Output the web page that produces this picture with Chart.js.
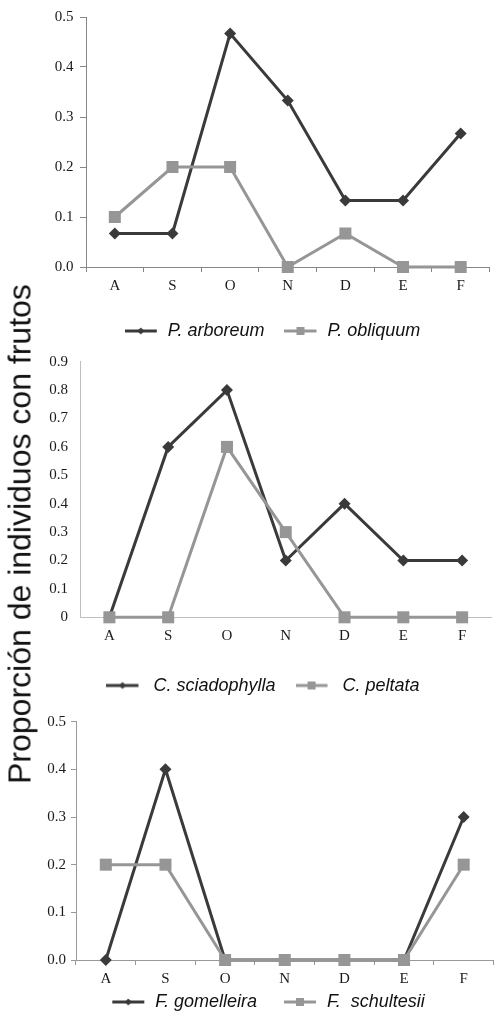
<!DOCTYPE html>
<html><head><meta charset="utf-8">
<script src="https://cdn.jsdelivr.net/npm/chart.js@4.4.0/dist/chart.umd.min.js"></script>
<style>
html,body{margin:0;padding:0;background:#fff;overflow:hidden;}
#wrap{position:relative;width:494px;height:1019px;overflow:hidden;background:#fff;}
canvas{position:absolute;}
#ytitle{position:absolute;left:20px;top:534px;transform:translate(-50%,-50%) rotate(-90deg);white-space:nowrap;font-family:'Liberation Sans',Arial,sans-serif;font-size:32px;color:#111;}
</style></head><body>
<div id="wrap">
<canvas id="c1" width="451" height="350" style="left:47px;top:0px"></canvas>
<canvas id="c2" width="474" height="365" style="left:26px;top:340px"></canvas>
<canvas id="c3" width="489" height="317" style="left:13px;top:704px"></canvas>
<div id="ytitle">Proporción de individuos con frutos</div>
</div>
<script>
// ---- data ----
const months = ['A','S','O','N','D','E','F'];
const pArboreum = [0.067,0.067,0.467,0.333,0.133,0.133,0.267];
const pObliquum = [0.1,0.2,0.2,0,0.067,0,0];
const cSciadophylla = [0,0.6,0.8,0.2,0.4,0.2,0.2];
const cPeltata = [0,0,0.6,0.3,0,0,0];
const fGomelleira = [0,0.4,0,0,0,0,0.3];
const fSchultesii = [0.2,0.2,0,0,0,0,0.2];
const yTicks1 = ['0.0','0.1','0.2','0.3','0.4','0.5'];
const yTicks2 = ['0','0.1','0.2','0.3','0.4','0.5','0.6','0.7','0.8','0.9'];
const yTicks3 = ['0.0','0.1','0.2','0.3','0.4','0.5'];

const DARK = '#3a3a3a', GREY = '#969696';

// legend sample: line with marker; `lead` = blank space before the line
function legendImg(dark, w, lead){
  const c = document.createElement('canvas');
  c.width = w; c.height = 12;
  const g = c.getContext('2d');
  g.strokeStyle = dark ? DARK : GREY; g.lineWidth = 3;
  g.beginPath(); g.moveTo(lead,6); g.lineTo(lead+32,6); g.stroke();
  g.fillStyle = dark ? DARK : GREY;
  const cx = lead + 16;
  if (dark){ g.beginPath(); g.moveTo(cx,2.5); g.lineTo(cx+3.5,6); g.lineTo(cx,9.5); g.lineTo(cx-3.5,6); g.closePath(); g.fill(); }
  else { g.fillRect(cx-4,2,8,8); }
  return c;
}

function makeChart(id, o){
  const imgs = [legendImg(true,o.boxW,o.lead), legendImg(false,o.boxW,o.lead)];
  const tickFont = {family:"'Liberation Serif','Times New Roman',serif", size:15};
  return new Chart(document.getElementById(id), {
    type:'line',
    data:{
      labels: months,
      datasets:[
        {label:o.names[0], data:o.series[0], order:1, borderColor:DARK, backgroundColor:DARK, borderWidth:3,
         pointStyle:'rectRot', pointRadius:6, pointBackgroundColor:DARK, pointBorderColor:DARK, pointBorderWidth:0, tension:0, clip:false},
        {label:o.names[1], data:o.series[1], order:0, borderColor:GREY, backgroundColor:GREY, borderWidth:3,
         pointStyle:'rect', pointRadius:8.5, pointBackgroundColor:GREY, pointBorderColor:GREY, pointBorderWidth:0, tension:0, clip:false}
      ]
    },
    options:{
      responsive:false, animation:false,
      layout:{padding:{top:o.padTop, bottom:o.padBottom, left:0, right:0}},
      plugins:{
        tooltip:{enabled:false},
        legend:{
          position:'bottom',
          labels:{
            usePointStyle:true, pointStyleWidth:o.boxW, padding:o.legPad, color:'#111',
            font:{family:"'Liberation Sans',Arial,sans-serif", size:18, style:'italic'},
            sort:(a,b)=>a.datasetIndex-b.datasetIndex,
            generateLabels(chart){
              const items = Chart.defaults.plugins.legend.labels.generateLabels(chart);
              items.forEach(it=>{ it.pointStyle = imgs[it.datasetIndex]; });
              return items;
            }
          }
        }
      },
      scales:{
        x:{
          offset:true,
          border:{color:o.axisColor, width:1},
          grid:{display:true, drawOnChartArea:false, offset:true, drawTicks:true, tickLength:o.xTickLen, tickColor:o.xTickColor},
          ticks:{font:tickFont, color:'#1a1a1a', padding:o.xPad, maxRotation:0, autoSkip:false},
          afterFit(s){ s.height = o.xH; }
        },
        y:{
          min:0, max:o.yMax,
          border:{color:o.axisColor, width:1},
          grid:{display:true, drawOnChartArea:false, drawTicks:true, tickLength:o.yTickLen, tickColor:o.yTickColor},
          ticks:{stepSize:0.1, font:tickFont, color:'#1a1a1a', padding:o.yPad,
                 callback:(v,i)=>o.yLabels[i]},
          afterFit(s){ s.width = o.yW; }
        }
      }
    }
  });
}

makeChart('c1', {names:['P. arboreum','P. obliquum'], series:[pArboreum,pObliquum], yMax:0.5, yLabels:yTicks1,
  padTop:17, padBottom:0, xH:35, yW:39, boxW:34, lead:0, legPad:20, axisColor:'#868686',
  xTickLen:5, xTickColor:'#868686', yTickLen:6, yTickColor:'#868686', xPad:5, yPad:6.5});
makeChart('c2', {names:['C. sciadophylla','C. peltata'], series:[cSciadophylla,cPeltata], yMax:0.9, yLabels:yTicks2,
  padTop:21.7, padBottom:0.5, xH:39.2, yW:54, boxW:38, lead:0, legPad:20, axisColor:'#bfbfbf',
  xTickLen:5, xTickColor:'rgba(0,0,0,0)', yTickLen:6, yTickColor:'rgba(0,0,0,0)', xPad:5, yPad:6});
makeChart('c3', {names:['F. gomelleira','F.  schultesii'], series:[fGomelleira,fSchultesii], yMax:0.5, yLabels:yTicks3,
  padTop:17.7, padBottom:0, xH:28, yW:63, boxW:56, lead:22, legPad:5, axisColor:'#999999',
  xTickLen:5, xTickColor:'#999999', yTickLen:5, yTickColor:'#999999', xPad:5, yPad:5});
</script>
</body></html>
